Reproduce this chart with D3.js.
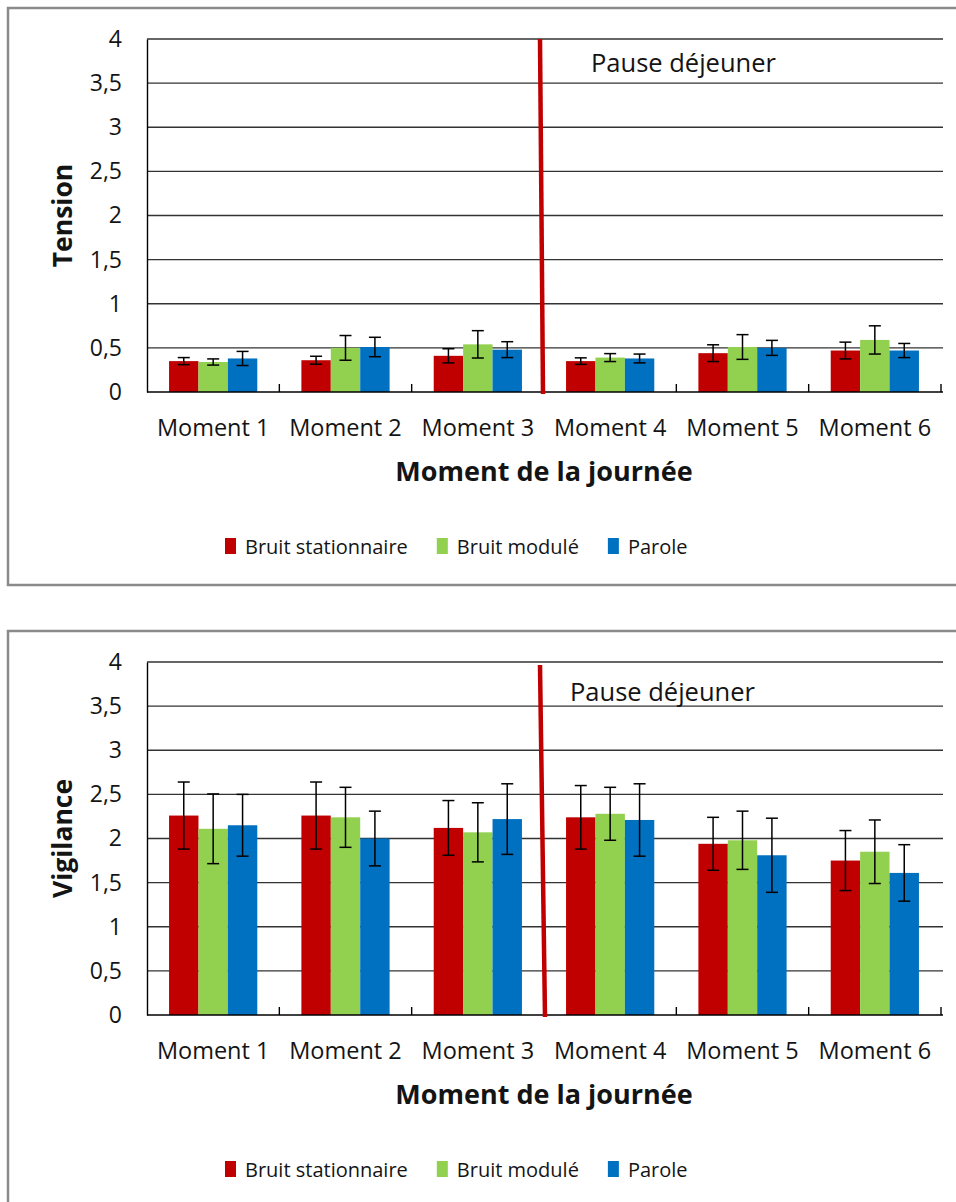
<!DOCTYPE html>
<html>
<head>
<meta charset="utf-8">
<script src="https://cdn.jsdelivr.net/npm/d3@7"></script>
<style>
  body { margin: 0; background: #fff; }
  svg { display: block; }
  text { font-family: "Open Sans", sans-serif; fill: #141414; }
</style>
</head>
<body>
<svg id="chart" width="956" height="1202"></svg>
<script>
// Categories and series
const moments = ["Moment 1", "Moment 2", "Moment 3", "Moment 4", "Moment 5", "Moment 6"];
const seriesNames = ["Bruit stationnaire", "Bruit modulé", "Parole"];
const yTickValues = [0, 0.5, 1, 1.5, 2, 2.5, 3, 3.5, 4];
const xAxisTitle = "Moment de la journée";
const pauseLabel = "Pause déjeuner";

// Tension: means and error half-widths per moment
const tensionStationnaire = [0.35, 0.36, 0.41, 0.35, 0.44, 0.47];
const tensionModule       = [0.34, 0.50, 0.54, 0.39, 0.51, 0.59];
const tensionParole       = [0.38, 0.51, 0.48, 0.38, 0.50, 0.47];
const tensionStationnaireErr = [0.04, 0.045, 0.08, 0.037, 0.095, 0.095];
const tensionModuleErr       = [0.035, 0.14, 0.155, 0.045, 0.14, 0.16];
const tensionParoleErr       = [0.08, 0.11, 0.09, 0.05, 0.085, 0.08];

// Vigilance: means and error half-widths per moment
const vigilanceStationnaire = [2.26, 2.26, 2.12, 2.24, 1.94, 1.75];
const vigilanceModule       = [2.11, 2.24, 2.07, 2.28, 1.98, 1.85];
const vigilanceParole       = [2.15, 2.00, 2.22, 2.21, 1.81, 1.61];
const vigilanceStationnaireErr = [0.38, 0.38, 0.31, 0.36, 0.30, 0.34];
const vigilanceModuleErr       = [0.395, 0.34, 0.335, 0.30, 0.33, 0.36];
const vigilanceParoleErr       = [0.35, 0.31, 0.40, 0.41, 0.42, 0.32];

const colors = ["#C00000", "#92D050", "#0070C0"];

const svg = d3.select("#chart");

function drawPanel(cfg) {
  // outer frame
  svg.append("rect")
    .attr("x", 8).attr("y", cfg.top + 8)
    .attr("width", 1000).attr("height", cfg.frameH)
    .attr("fill", "none").attr("stroke", "#8a8a8a").attr("stroke-width", 2.5);

  const g = svg.append("g").attr("transform", `translate(0,${cfg.top})`);

  const y = d3.scaleLinear().domain([0, 4]).range([392, 39]);
  const x = d3.scaleBand().domain(moments).range([147, 941]).paddingInner(0).paddingOuter(0);
  const xs = d3.scaleBand().domain(seriesNames).range([0, x.bandwidth()])
    .paddingInner(0).paddingOuter(0.75);

  const rows = moments.map((m, i) => ({
    moment: m,
    values: seriesNames.map((s, k) => ({ series: s, k, v: cfg.values[k][i], e: cfg.errors[k][i] }))
  }));

  // horizontal gridlines
  g.append("g").selectAll("line")
    .data(yTickValues.filter(v => v > 0))
    .join("line")
    .attr("x1", 147).attr("x2", 943)
    .attr("y1", d => y(d)).attr("y2", d => y(d))
    .attr("stroke", "#333").attr("stroke-width", 1.4);

  // bars
  const grp = g.append("g").selectAll("g")
    .data(rows).join("g")
    .attr("transform", d => `translate(${x(d.moment)},0)`);

  grp.selectAll("rect")
    .data(d => d.values).join("rect")
    .attr("x", d => xs(d.series))
    .attr("width", xs.bandwidth())
    .attr("y", d => y(d.v))
    .attr("height", d => y(0) - y(d.v))
    .attr("fill", d => colors[d.k]);

  // error bars
  const eb = grp.selectAll("g.err")
    .data(d => d.values).join("g").attr("class", "err")
    .attr("stroke", "#000").attr("stroke-width", 1.5);
  const cx = d => xs(d.series) + xs.bandwidth() / 2;
  eb.append("line")
    .attr("x1", cx).attr("x2", cx)
    .attr("y1", d => y(d.v + d.e)).attr("y2", d => y(d.v - d.e));
  eb.append("line")
    .attr("x1", d => cx(d) - 6).attr("x2", d => cx(d) + 6)
    .attr("y1", d => y(d.v + d.e)).attr("y2", d => y(d.v + d.e));
  eb.append("line")
    .attr("x1", d => cx(d) - 6).attr("x2", d => cx(d) + 6)
    .attr("y1", d => y(d.v - d.e)).attr("y2", d => y(d.v - d.e));

  // y axis
  const yAxis = g.append("g").attr("transform", "translate(147,0)")
    .call(d3.axisLeft(y).tickValues(yTickValues).tickSize(0).tickSizeOuter(0).tickPadding(25)
      .tickFormat(d => String(d).replace(".", ",")));
  yAxis.select(".domain").attr("stroke", "#000").attr("stroke-width", 1.4);
  yAxis.selectAll("text").attr("font-size", 23).attr("font-family", "Open Sans").attr("fill", "#141414");

  // x axis
  const xAxis = g.append("g").attr("transform", `translate(0,${y(0)})`)
    .call(d3.axisBottom(x).tickSize(0).tickSizeOuter(0).tickPadding(27));
  xAxis.select(".domain").remove();
  xAxis.selectAll("text").attr("font-size", 23.5).attr("font-family", "Open Sans").attr("fill", "#141414");
  g.append("line").attr("x1", 147).attr("x2", 943)
    .attr("y1", y(0)).attr("y2", y(0))
    .attr("stroke", "#000").attr("stroke-width", 1.6);
  // inward category ticks
  g.append("g").selectAll("line")
    .data(moments).join("line")
    .attr("x1", d => x(d) + x.bandwidth()).attr("x2", d => x(d) + x.bandwidth())
    .attr("y1", y(0)).attr("y2", y(0) - 8)
    .attr("stroke", "#000").attr("stroke-width", 1.4);

  // lunch break divider between Moment 3 and Moment 4
  const xb = x(moments[3]);
  g.append("line")
    .attr("x1", xb + cfg.lineTopDx).attr("y1", y(4) + cfg.lineTopDy)
    .attr("x2", xb + cfg.lineBottomDx).attr("y2", y(0) + 2)
    .attr("stroke", "#C00000").attr("stroke-width", 4.5);
  g.append("text")
    .attr("x", xb + cfg.labelDx).attr("y", y(4) + cfg.labelDy)
    .attr("font-size", 25.5).text(pauseLabel);

  // axis titles
  g.append("text")
    .attr("transform", `translate(72,${(y(0) + y(4)) / 2}) rotate(-90)`)
    .attr("text-anchor", "middle").attr("font-weight", "bold").attr("font-size", 26.5)
    .text(cfg.title);
  g.append("text")
    .attr("x", (147 + 941) / 2).attr("y", 481)
    .attr("text-anchor", "middle").attr("font-weight", "bold").attr("font-size", 27)
    .text(xAxisTitle);

  // legend
  const lg = g.append("g");
  let lx = 225;
  seriesNames.forEach((s, k) => {
    lg.append("rect").attr("x", lx).attr("y", 538).attr("width", 11).attr("height", 16)
      .attr("fill", colors[k]);
    const t = lg.append("text").attr("x", lx + 20).attr("y", 554)
      .attr("font-size", 20).text(s);
    lx += 20 + t.node().getComputedTextLength() + 29;
  });
}

drawPanel({
  top: 0, frameH: 577, title: "Tension",
  values: [tensionStationnaire, tensionModule, tensionParole],
  errors: [tensionStationnaireErr, tensionModuleErr, tensionParoleErr],
  lineTopDx: -4, lineTopDy: 0, lineBottomDx: -1, labelDx: 47, labelDy: 33
});
drawPanel({
  top: 623, frameH: 700, title: "Vigilance",
  values: [vigilanceStationnaire, vigilanceModule, vigilanceParole],
  errors: [vigilanceStationnaireErr, vigilanceModuleErr, vigilanceParoleErr],
  lineTopDx: -4, lineTopDy: 3, lineBottomDx: 1, labelDx: 26, labelDy: 39
});
</script>
</body>
</html>
